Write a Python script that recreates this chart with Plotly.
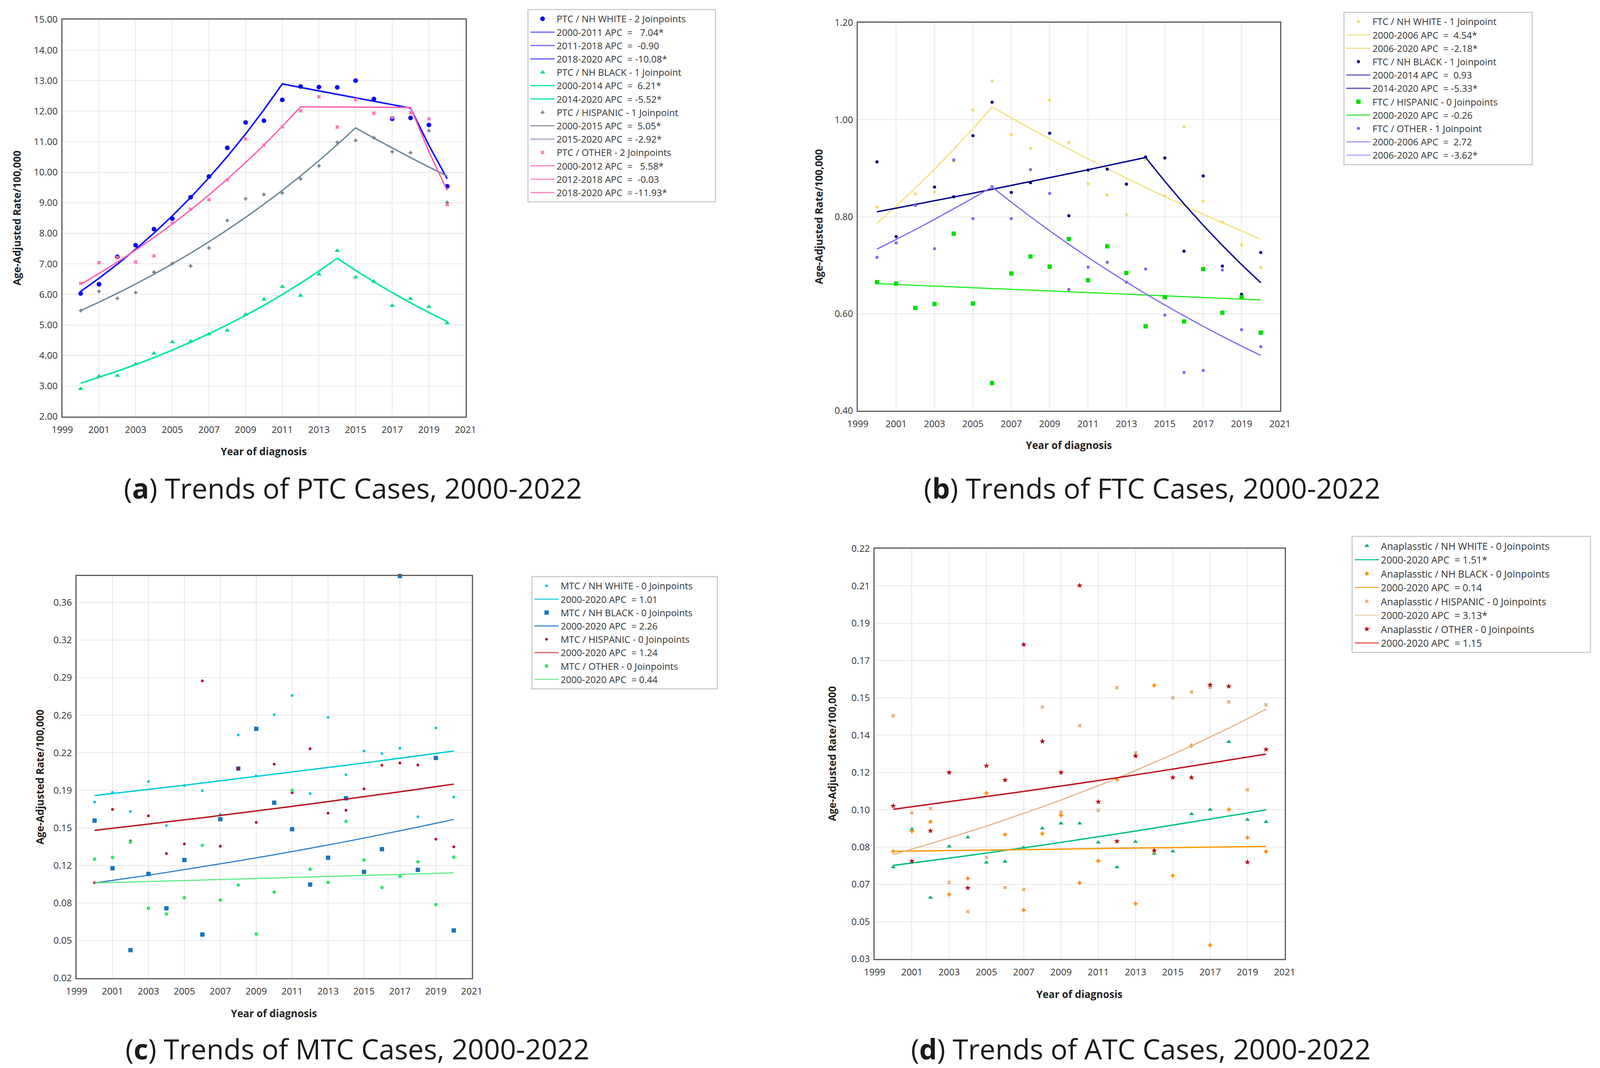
import plotly.graph_objects as go

W, H = 4360, 2733
FONT = "Open Sans"

years = list(range(2000, 2021))
x_ticks = [1999, 2001, 2003, 2005, 2007, 2009, 2011, 2013, 2015, 2017, 2019, 2021]

# ---------------- (a) PTC ----------------
ptc_white = [6.03, 6.33, 7.23, 7.61, 8.14, 8.48, 9.18, 9.86, 10.80, 11.63, 11.69, 12.37, 12.81, 12.79, 12.78, 13.00, 12.40, 11.75, 11.78, 11.55, 9.54]
ptc_black = [2.91, 3.32, 3.34, 3.72, 4.07, 4.44, 4.46, 4.70, 4.82, 5.34, 5.84, 6.25, 5.96, 6.66, 7.43, 6.56, 6.42, 5.63, 5.86, 5.60, 5.06]
ptc_hisp = [5.47, 6.10, 5.87, 6.06, 6.73, 7.01, 6.93, 7.52, 8.42, 9.13, 9.27, 9.32, 9.78, 10.21, 10.98, 11.04, 11.13, 10.67, 10.64, 11.36, 9.01]
ptc_other = [6.36, 7.04, 7.21, 7.06, 7.26, 8.34, 8.79, 9.10, 9.75, 11.09, 10.89, 11.49, 12.01, 12.47, 11.48, 12.38, 11.93, 11.79, 11.95, 11.75, 8.94]
ptc_white_fit = [6.100, 6.529, 6.989, 7.481, 8.008, 8.572, 9.175, 9.821, 10.513, 11.253, 12.045, 12.893, 12.777, 12.662, 12.548, 12.435, 12.323, 12.212, 12.102, 10.882, 9.785]
ptc_black_fit = [3.090, 3.282, 3.486, 3.702, 3.932, 4.176, 4.436, 4.711, 5.004, 5.314, 5.644, 5.995, 6.367, 6.763, 7.183, 6.786, 6.412, 6.058, 5.723, 5.407, 5.109]
ptc_hisp_fit = [5.470, 5.746, 6.036, 6.341, 6.661, 6.998, 7.351, 7.722, 8.112, 8.522, 8.952, 9.404, 9.879, 10.378, 10.902, 11.453, 11.118, 10.794, 10.478, 10.172, 9.875]
ptc_other_fit = [6.330, 6.683, 7.056, 7.450, 7.865, 8.304, 8.768, 9.257, 9.773, 10.319, 10.894, 11.502, 12.144, 12.140, 12.137, 12.133, 12.129, 12.126, 12.122, 10.676, 9.402]
ptc_yticks = [2, 3, 4, 5, 6, 7, 8, 9, 10, 11, 12, 13, 14, 15]
ptc_ytext = ["2.00", "3.00", "4.00", "5.00", "6.00", "7.00", "8.00", "9.00", "10.00", "11.00", "12.00", "13.00", "14.00", "15.00"]

# ---------------- (b) FTC ----------------
ftc_white = [0.820, 0.818, 0.847, 0.850, 0.914, 1.020, 1.080, 0.969, 0.941, 1.040, 0.953, 0.868, 0.845, 0.804, 0.918, 0.843, 0.986, 0.832, 0.789, 0.742, 0.695]
ftc_black = [0.913, 0.759, 0.824, 0.861, 0.841, 0.967, 1.036, 0.850, 0.870, 0.972, 0.802, 0.896, 0.898, 0.867, 0.923, 0.921, 0.729, 0.884, 0.698, 0.640, 0.726]
ftc_hisp = [0.665, 0.662, 0.612, 0.620, 0.765, 0.621, 0.457, 0.683, 0.718, 0.697, 0.754, 0.669, 0.739, 0.684, 0.574, 0.634, 0.584, 0.692, 0.602, 0.634, 0.561]
ftc_other = [0.716, 0.746, 0.823, 0.734, 0.917, 0.796, 0.862, 0.796, 0.897, 0.848, 0.650, 0.696, 0.706, 0.665, 0.692, 0.597, 0.479, 0.483, 0.690, 0.567, 0.532]
ftc_white_fit = [0.7860, 0.8217, 0.8590, 0.8980, 0.9388, 0.9814, 1.0260, 1.0036, 0.9818, 0.9604, 0.9394, 0.9190, 0.8989, 0.8793, 0.8602, 0.8414, 0.8231, 0.8051, 0.7876, 0.7704, 0.7536]
ftc_black_fit = [0.8100, 0.8175, 0.8251, 0.8328, 0.8406, 0.8484, 0.8563, 0.8642, 0.8723, 0.8804, 0.8886, 0.8968, 0.9052, 0.9136, 0.9221, 0.8730, 0.8264, 0.7824, 0.7407, 0.7012, 0.6638]
ftc_hisp_fit = [0.6620, 0.6603, 0.6586, 0.6568, 0.6551, 0.6534, 0.6517, 0.6500, 0.6484, 0.6467, 0.6450, 0.6433, 0.6416, 0.6400, 0.6383, 0.6367, 0.6350, 0.6334, 0.6317, 0.6301, 0.6284]
ftc_other_fit = [0.7330, 0.7529, 0.7734, 0.7945, 0.8161, 0.8383, 0.8611, 0.8299, 0.7999, 0.7709, 0.7430, 0.7161, 0.6902, 0.6652, 0.6411, 0.6179, 0.5956, 0.5740, 0.5532, 0.5332, 0.5139]
ftc_yticks = [0.40, 0.60, 0.80, 1.00, 1.20]
ftc_ytext = ["0.40", "0.60", "0.80", "1.00", "1.20"]

# ---------------- (c) MTC ----------------
mtc_white = [0.1764, 0.1852, 0.1678, 0.1951, 0.1549, 0.1914, 0.1868, 0.1651, 0.2375, 0.2002, 0.2560, 0.2734, 0.1841, 0.2535, 0.2013, 0.2230, 0.2206, 0.2254, 0.1630, 0.2439, 0.1809]
mtc_black = [0.1595, 0.1161, 0.0416, 0.1110, 0.0796, 0.1236, 0.0558, 0.1608, 0.2069, 0.2431, 0.1758, 0.1517, 0.1013, 0.1257, 0.1798, 0.1128, 0.1335, 0.3822, 0.1147, 0.2166, 0.0595]
mtc_hisp = [0.1029, 0.1697, 0.1410, 0.1638, 0.1295, 0.1383, 0.2868, 0.1362, 0.2069, 0.1579, 0.2109, 0.1849, 0.2249, 0.1662, 0.1689, 0.1884, 0.2099, 0.2120, 0.2101, 0.1426, 0.1356]
mtc_other = [0.1244, 0.1260, 0.1399, 0.0796, 0.0745, 0.0893, 0.1370, 0.0871, 0.1008, 0.0563, 0.0944, 0.1871, 0.1153, 0.1032, 0.1589, 0.1236, 0.0986, 0.1088, 0.1220, 0.0831, 0.1262]
mtc_white_fit = [0.1823, 0.1841, 0.1860, 0.1879, 0.1898, 0.1917, 0.1937, 0.1956, 0.1976, 0.1996, 0.2016, 0.2036, 0.2057, 0.2078, 0.2099, 0.2120, 0.2141, 0.2163, 0.2185, 0.2207, 0.2229]
mtc_black_fit = [0.1027, 0.1050, 0.1074, 0.1098, 0.1123, 0.1149, 0.1175, 0.1201, 0.1228, 0.1256, 0.1284, 0.1313, 0.1343, 0.1373, 0.1404, 0.1436, 0.1469, 0.1502, 0.1536, 0.1571, 0.1606]
mtc_hisp_fit = [0.1506, 0.1525, 0.1543, 0.1563, 0.1582, 0.1602, 0.1621, 0.1642, 0.1662, 0.1683, 0.1704, 0.1725, 0.1746, 0.1768, 0.1790, 0.1812, 0.1835, 0.1857, 0.1880, 0.1904, 0.1927]
mtc_other_fit = [0.1027, 0.1032, 0.1036, 0.1041, 0.1045, 0.1050, 0.1054, 0.1059, 0.1063, 0.1068, 0.1073, 0.1077, 0.1082, 0.1087, 0.1091, 0.1096, 0.1101, 0.1106, 0.1111, 0.1115, 0.1120]
mtc_yticks = [0.0161, 0.0503, 0.0845, 0.1187, 0.1529, 0.1871, 0.2213, 0.2555, 0.2897, 0.3239, 0.3581]
mtc_ytext = ["0.02", "0.05", "0.08", "0.12", "0.15", "0.19", "0.22", "0.26", "0.29", "0.32", "0.36"]

# ---------------- (d) ATC ----------------
atc_white = [0.0741, 0.0919, 0.0598, 0.0838, 0.0881, 0.0763, 0.0767, 0.0833, 0.0923, 0.0946, 0.0946, 0.0857, 0.0741, 0.0860, 0.0804, 0.0815, 0.0990, 0.1011, 0.1329, 0.0964, 0.0953]
atc_black = [0.0815, 0.0909, 0.0954, 0.0613, 0.0688, 0.1088, 0.0894, 0.0539, 0.0898, 0.0984, 0.0667, 0.0770, 0.1152, 0.0569, 0.1594, 0.0701, 0.1311, 0.0375, 0.1011, 0.0880, 0.0814]
atc_hisp = [0.1451, 0.0995, 0.1015, 0.0669, 0.0532, 0.0787, 0.0645, 0.0636, 0.1492, 0.0999, 0.1405, 0.1007, 0.1583, 0.1277, 0.0812, 0.1535, 0.1563, 0.1585, 0.1516, 0.1104, 0.1502]
atc_other = [0.1028, 0.0769, 0.0911, 0.1185, 0.0643, 0.1216, 0.1149, 0.1785, 0.1331, 0.1185, 0.2062, 0.1047, 0.0862, 0.1262, 0.0819, 0.1161, 0.1161, 0.1596, 0.1589, 0.0764, 0.1293]
atc_white_fit = [0.0749, 0.0760, 0.0772, 0.0783, 0.0795, 0.0807, 0.0819, 0.0832, 0.0844, 0.0857, 0.0870, 0.0883, 0.0896, 0.0910, 0.0924, 0.0938, 0.0952, 0.0966, 0.0981, 0.0995, 0.1010]
atc_black_fit = [0.0815, 0.0816, 0.0817, 0.0818, 0.0820, 0.0821, 0.0822, 0.0823, 0.0824, 0.0825, 0.0827, 0.0828, 0.0829, 0.0830, 0.0831, 0.0832, 0.0833, 0.0835, 0.0836, 0.0837, 0.0838]
atc_hisp_fit = [0.0800, 0.0825, 0.0851, 0.0878, 0.0905, 0.0933, 0.0963, 0.0993, 0.1024, 0.1056, 0.1089, 0.1123, 0.1158, 0.1194, 0.1232, 0.1270, 0.1310, 0.1351, 0.1393, 0.1437, 0.1482]
atc_other_fit = [0.1012, 0.1024, 0.1035, 0.1047, 0.1059, 0.1071, 0.1084, 0.1096, 0.1109, 0.1121, 0.1134, 0.1147, 0.1160, 0.1174, 0.1187, 0.1201, 0.1215, 0.1229, 0.1243, 0.1257, 0.1271]
atc_yticks = [0.031, 0.0485, 0.066, 0.0835, 0.101, 0.1185, 0.136, 0.1535, 0.171, 0.1885, 0.206, 0.2235]
atc_ytext = ["0.03", "0.05", "0.07", "0.08", "0.10", "0.12", "0.14", "0.15", "0.17", "0.19", "0.21", "0.22"]

NB = "\u00a0"
def apc(period, value):
    return period + " APC" + NB * 2 + "=" + NB + value

# ---------------- layout geometry (reference pixels -> paper fractions) ----------------
def PX(px):
    return px / W

def PY(py):
    return 1 - py / H

panels = [
    dict(k="", xs=(162, 1265), ys=(42, 1058), yr=[2, 15], yt=ptc_yticks, ytt=ptc_ytext,
         leg=(1434, 15), cap=("a", "PTC", 957, 1240), ytitle_x=37, xtitle_y=1147, lfont=24, pad=11),
    dict(k="2", xs=(2338, 3493), ys=(50, 1043), yr=[0.4, 1.2], yt=ftc_yticks, ytt=ftc_ytext,
         leg=(3666, 22), cap=("b", "FTC", 3143, 1240), ytitle_x=2232, xtitle_y=1131, lfont=24, pad=13),
    dict(k="3", xs=(201, 1282), ys=(1466, 2495), yr=[0.0161, 0.3822], yt=mtc_yticks, ytt=mtc_ytext,
         leg=(1445, 1466), cap=("c", "MTC", 969, 2675), ytitle_x=100, xtitle_y=2585, lfont=24, pad=9),
    dict(k="4", xs=(2384, 3506), ys=(1396, 2446), yr=[0.031, 0.2235], yt=atc_yticks, ytt=atc_ytext,
         leg=(3689, 1363), cap=("d", "ATC", 3112, 2675), ytitle_x=2268, xtitle_y=2536, lfont=25, pad=15),
]
PAD = {p["k"]: p["pad"] for p in panels}

fig = go.Figure()
layout = dict(autosize=True, margin=dict(l=0, r=0, t=0, b=0, autoexpand=False),
              paper_bgcolor="white", plot_bgcolor="white",
              font=dict(family=FONT, color="#333"), annotations=[])

for p in panels:
    k = p["k"]
    layout["xaxis" + k] = dict(
        domain=[PX(p["xs"][0]), PX(p["xs"][1])], anchor="y" + k, range=[1999, 2021],
        tickmode="array", tickvals=x_ticks, showgrid=True, gridcolor="#e8e8e8", gridwidth=2,
        showline=True, mirror=True, linecolor="#5a5a5a", linewidth=3, ticks="", zeroline=False,
        tickfont=dict(size=24, color="#333", family=FONT), ticklabelstandoff=10, fixedrange=True)
    layout["yaxis" + k] = dict(
        domain=[PY(p["ys"][1]), PY(p["ys"][0])], anchor="x" + k, range=p["yr"],
        tickmode="array", tickvals=p["yt"], ticktext=p["ytt"], showgrid=True, gridcolor="#e8e8e8",
        gridwidth=2, showline=True, mirror=True, linecolor="#5a5a5a", linewidth=3, ticks="",
        zeroline=False, tickfont=dict(size=24, color="#333", family=FONT), ticklabelstandoff=4,
        fixedrange=True)
    legname = "legend" + k
    layout[legname] = dict(x=PX(p["leg"][0]), y=PY(p["leg"][1]), xanchor="left", yanchor="top",
                           bgcolor="white", bordercolor="#cccccc", borderwidth=3,
                           font=dict(size=p["lfont"], color="#333", family=FONT), tracegroupgap=0,
                           itemwidth=62, traceorder="normal")
    cx = (p["xs"][0] + p["xs"][1]) / 2
    cy = (p["ys"][0] + p["ys"][1]) / 2
    layout["annotations"].append(dict(
        x=PX(p["ytitle_x"]), y=PY(cy), xref="paper", yref="paper", text="<b>Age-Adjusted Rate/100,000</b>",
        textangle=-90, showarrow=False, font=dict(size=26, color="#222", family=FONT),
        xanchor="center", yanchor="middle"))
    layout["annotations"].append(dict(
        x=PX(cx), y=PY(p["xtitle_y"]), xref="paper", yref="paper", text="<b>Year of diagnosis</b>",
        showarrow=False, font=dict(size=26, color="#222", family=FONT), xanchor="center", yanchor="middle"))
    letter, name, capx, capy = p["cap"]
    layout["annotations"].append(dict(
        x=PX(capx), y=PY(capy), xref="paper", yref="paper",
        text="(<b>" + letter + "</b>) Trends of " + name + " Cases, 2000-2022",
        showarrow=False, font=dict(size=72, color="#1a1a1a", family=FONT), xanchor="center", yanchor="middle"))


def add_series(k, y, fit, label, msym, msize, mcolor, fitcolor, legend_rows, fitwidth=3.5, clip=True):
    xa, ya = "x" + k, "y" + k
    leg = "legend" + k
    fig.add_trace(go.Scatter(x=years, y=fit, mode="lines", line=dict(color=fitcolor, width=fitwidth),
                             xaxis=xa, yaxis=ya, showlegend=False, hoverinfo="skip"))
    fig.add_trace(go.Scatter(x=years, y=y, mode="markers", name=label + NB * PAD[k],
                             marker=dict(symbol=msym, size=msize, color=mcolor, line=dict(width=0)),
                             xaxis=xa, yaxis=ya, legend=leg, cliponaxis=clip))
    for text, col in legend_rows:
        fig.add_trace(go.Scatter(x=[None], y=[None], mode="lines", name=text,
                                 line=dict(color=col, width=3), xaxis=xa, yaxis=ya, legend=leg))


# (a)
add_series("", ptc_white, ptc_white_fit, "PTC / NH WHITE - 2 Joinpoints", "circle", 12, "#0000f0", "#1414ff",
           [(apc("2000-2011", NB * 2 + "7.04*"), "#6262ff"), (apc("2011-2018", NB + "-0.90"), "#6a6aff"),
            (apc("2018-2020", "-10.08*"), "#5c5cff")], fitwidth=4)
add_series("", ptc_black, ptc_black_fit, "PTC / NH BLACK - 1 Joinpoint", "triangle-up", 12, "#00e07a", "#00e89c",
           [(apc("2000-2014", NB + "6.21*"), "#00e6a0"), (apc("2014-2020", "-5.52*"), "#00eaa0")], fitwidth=4)
add_series("", ptc_hisp, ptc_hisp_fit, "PTC / HISPANIC - 1 Joinpoint", "cross", 8, "#6f8090", "#6f8898",
           [(apc("2000-2015", NB + "5.05*"), "#8a98a8"), (apc("2015-2020", "-2.92*"), "#a0a8c0")])
add_series("", ptc_other, ptc_other_fit, "PTC / OTHER - 2 Joinpoints", "x", 9, "#ff6eb4", "#ff5fb2",
           [(apc("2000-2012", NB * 2 + "5.58*"), "#ff80c4"), (apc("2012-2018", NB + "-0.03"), "#ff88c8"),
            (apc("2018-2020", "-11.93*"), "#ff80c0")])

# (b)
add_series("2", ftc_white, ftc_white_fit, "FTC / NH WHITE - 1 Joinpoint", "circle", 8, "#f0dc70", "#f2e07a",
           [(apc("2000-2006", NB + "4.54*"), "#f2e48a"), (apc("2006-2020", "-2.18*"), "#f0e090")], fitwidth=3)
add_series("2", ftc_black, ftc_black_fit, "FTC / NH BLACK - 1 Joinpoint", "circle", 8, "#000080", "#00008b",
           [(apc("2000-2014", NB + "0.93"), "#5a5ac0"), (apc("2014-2020", "-5.33*"), "#4848b8")], fitwidth=3.5)
add_series("2", ftc_hisp, ftc_hisp_fit, "FTC / HISPANIC - 0 Joinpoints", "square", 11, "#00dd00", "#22ee22",
           [(apc("2000-2020", "-0.26"), "#44e844")], fitwidth=3)
add_series("2", ftc_other, ftc_other_fit, "FTC / OTHER - 1 Joinpoint", "circle", 8, "#8468f4", "#7f66f0",
           [(apc("2000-2006", NB + "2.72"), "#a898f8"), (apc("2006-2020", "-3.62*"), "#b0a4f8")], fitwidth=3)

# (c)
add_series("3", mtc_white, mtc_white_fit, "MTC / NH WHITE - 0 Joinpoints", "circle", 7, "#00c8d0", "#00ccd6",
           [(apc("2000-2020", "1.01"), "#30d0e0")], fitwidth=3.5)
add_series("3", mtc_black, mtc_black_fit, "MTC / NH BLACK - 0 Joinpoints", "square", 11, "#1874bc", "#2a80c8",
           [(apc("2000-2020", "2.26"), "#3a88cc")], fitwidth=3, clip=False)
add_series("3", mtc_hisp, mtc_hisp_fit, "MTC / HISPANIC - 0 Joinpoints", "circle", 7, "#b00818", "#b8101c",
           [(apc("2000-2020", "1.24"), "#d86068")], fitwidth=3.5)
add_series("3", mtc_other, mtc_other_fit, "MTC / OTHER - 0 Joinpoints", "circle", 9, "#30e474", "#60ec88",
           [(apc("2000-2020", "0.44"), "#80f0a0")], fitwidth=3)

# (d)
add_series("4", atc_white, atc_white_fit, "Anaplasstic / NH WHITE - 0 Joinpoints", "triangle-up", 11, "#00b070", "#00c07c",
           [(apc("2000-2020", "1.51*"), "#20c888")], fitwidth=3.5)
add_series("4", atc_black, atc_black_fit, "Anaplasstic / NH BLACK - 0 Joinpoints", "cross", 9, "#ff8c00", "#ff9a10",
           [(apc("2000-2020", "0.14"), "#ffaa40")], fitwidth=3.5)
add_series("4", atc_hisp, atc_hisp_fit, "Anaplasstic / HISPANIC - 0 Joinpoints", "x", 9, "#deb080", "#e2b486",
           [(apc("2000-2020", "3.13*"), "#ecd0b0")], fitwidth=3)
add_series("4", atc_other, atc_other_fit, "Anaplasstic / OTHER - 0 Joinpoints", "star", 11, "#b00010", "#c0101c",
           [(apc("2000-2020", "1.15"), "#e05858")], fitwidth=3.5)

fig.update_layout(**layout)
fig.write_html("out.html", default_width="100%", default_height="100vh")
